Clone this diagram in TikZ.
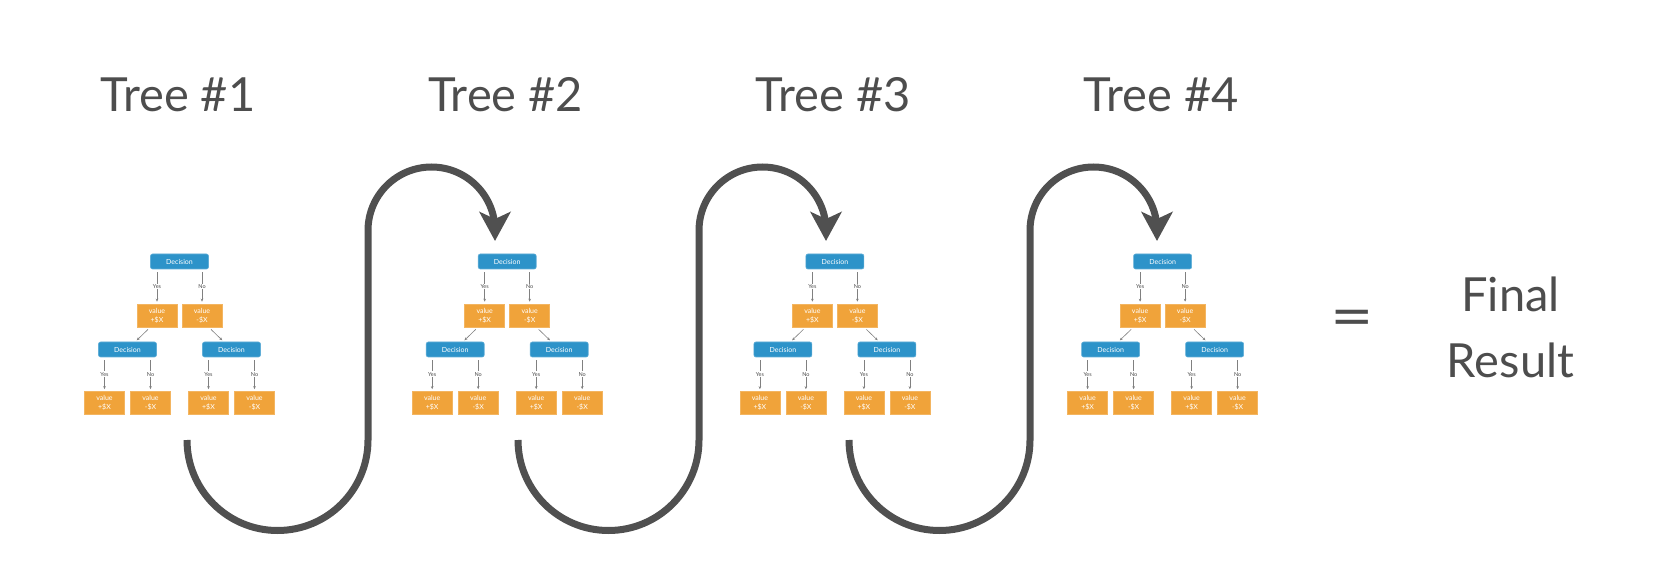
\documentclass[tikz,border=0pt]{standalone}
\usepackage{fontspec}
\setmainfont{Lato}
\usetikzlibrary{arrows.meta}
\definecolor{decblue}{HTML}{2D93C9}
\definecolor{valorange}{HTML}{F0A33A}
\definecolor{inkgrey}{HTML}{4D4D4D}
\definecolor{loopgrey}{HTML}{505050}
\begin{document}
\begin{tikzpicture}[x=1pt,y=1pt,
    dec/.style={fill=decblue,draw=decblue!75!white,line width=0.6pt,rounded corners=2pt,text=white,
      font=\fontsize{7}{8}\selectfont,minimum width=58pt,minimum height=15pt,inner sep=0pt},
    val/.style={fill=valorange,draw=valorange!80!white,line width=0.6pt,text=white,align=center,
      font=\fontsize{7}{9}\selectfont,minimum width=40pt,minimum height=23pt,inner sep=0pt},
    lab/.style={fill=white,text=black!70,font=\fontsize{5.5}{6}\selectfont,inner sep=1pt},
    edge/.style={draw=black!50,line width=0.6pt,shorten <=3pt,shorten >=2pt,-{Stealth[length=3pt,width=2.6pt]}},
    big/.style={text=inkgrey,font=\fontsize{47}{56}\selectfont},
    loopline/.style={draw=loopgrey,line width=7pt,-{Stealth[length=29pt,width=31pt,inset=7pt]}}]
  \useasboundingbox (0,0) rectangle (1664,576);
  \foreach \i/\X in {1/179.5,2/507.2,3/834.9,4/1162.6} {
    \node[big,anchor=base] (h\i) at (\X-1.5,464) {Tree \#\i};
    \node[dec] (d\i) at (\X,314.5) {Decision};
    \node[val] (p\i) at (\X-22.5,260.5) {value\\+\$X};
    \node[val] (n\i) at (\X+22.5,260.5) {value\\-\$X};
    \node[dec] (dl\i) at (\X-52,226.5) {Decision};
    \node[dec] (dr\i) at (\X+52,226.5) {Decision};
    \node[val] (a\i) at (\X-75,173) {value\\+\$X};
    \node[val] (b\i) at (\X-29,173) {value\\-\$X};
    \node[val] (c\i) at (\X+29,173) {value\\+\$X};
    \node[val] (e\i) at (\X+75,173) {value\\-\$X};
    \draw[edge] (d\i.south -| p\i) -- node[lab] {Yes} (p\i);
    \draw[edge] (d\i.south -| n\i) -- node[lab] {No} (n\i);
    \draw[edge] (p\i.240) -- (dl\i.45);
    \draw[edge] (n\i.300) -- (dr\i.135);
    \draw[edge] (dl\i.south -| a\i) -- node[lab] {Yes} (a\i);
    \draw[edge] (dl\i.south -| b\i) -- node[lab] {No} (b\i);
    \draw[edge] (dr\i.south -| c\i) -- node[lab] {Yes} (c\i);
    \draw[edge] (dr\i.south -| e\i) -- node[lab] {No} (e\i);
  }
  % passes from one tree to the next
  \foreach \k/\L in {1/187,2/518,3/849} {
    \coordinate (s\k) at (\L,136);
    \coordinate (t\k) at (\L+308,335);
    \draw[loopline] (s\k) arc (180:360:90.5) -- ++(0,209.5) arc (180:0:63.5) -- (t\k);
  }
  \node[text=inkgrey,font=\fontsize{60}{60}\selectfont] (eq) at (1352,252) {\scalebox{1.25}[1]{=}};
  \node[big,align=center,anchor=base] (res) at (1510.5,264) {Final};
  \node[big,anchor=base] (res2) at (1510.5,199) {Result};
\end{tikzpicture}
\end{document}
